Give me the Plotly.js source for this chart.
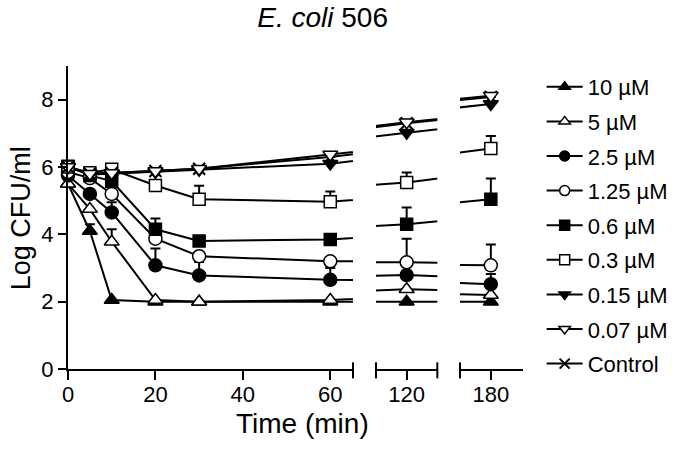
<!DOCTYPE html>
<html>
<head>
<meta charset="utf-8">
<script src="https://cdn.plot.ly/plotly-3.0.1.min.js"></script>
<style>html,body{margin:0;padding:0;background:#fff;}#chart{width:675px;height:451px;}</style>
</head>
<body>
<div id="chart"></div>
<script>
// ---- data ----
const times = [0, 5, 10, 20, 30, 60, 120, 180];
const seriesNames = ['10 µM', '5 µM', '2.5 µM', '1.25 µM', '0.6 µM', '0.3 µM', '0.15 µM', '0.07 µM', 'Control'];
const c10uM   = [5.50, 4.10, 2.05, 2.00, 2.00, 2.00, 2.00, 2.00];
const c5uM    = [5.50, 4.75, 3.78, 2.05, 2.00, 2.05, 2.37, 2.20];
const c2_5uM  = [5.75, 5.20, 4.65, 3.08, 2.78, 2.65, 2.79, 2.52];
const c1_25uM = [5.85, 5.67, 5.20, 3.87, 3.35, 3.20, 3.17, 3.08];
const c0_6uM  = [6.02, 5.75, 5.58, 4.15, 3.80, 3.85, 4.30, 5.04];
const c0_3uM  = [6.00, 5.83, 5.93, 5.45, 5.04, 4.97, 5.54, 6.55];
const c0_15uM = [6.00, 5.78, 5.80, 5.85, 5.92, 6.10, 7.02, 7.87];
const c0_07uM = [6.00, 5.80, 5.82, 5.88, 5.95, 6.37, 7.33, 8.12];
const control = [6.00, 5.80, 5.82, 5.88, 5.95, 6.30, 7.30, 8.08];
// upper error bars (SD)
const e10uM   = [0, 0.20, 0, 0, 0, 0, 0, 0];
const e5uM    = [0, 0, 0.37, 0, 0, 0, 0, 0];
const e2_5uM  = [0, 0, 0.30, 0.50, 0.40, 0.35, 0.30, 0.30];
const e1_25uM = [0, 0, 0, 0, 0, 0, 0.70, 0.62];
const e0_6uM  = [0, 0, 0, 0.32, 0, 0, 0.50, 0.62];
const e0_3uM  = [0, 0, 0, 0, 0.40, 0.30, 0.30, 0.37];
const eNone   = [0, 0, 0, 0, 0, 0, 0, 0];
const yTicks = [0, 2, 4, 6, 8];
const xTicks1 = [0, 20, 40, 60];
const xTicks2 = [120];
const xTicks3 = [180];

const values = [c10uM, c5uM, c2_5uM, c1_25uM, c0_6uM, c0_3uM, c0_15uM, c0_07uM, control];
const errors = [e10uM, e5uM, e2_5uM, e1_25uM, e0_6uM, e0_3uM, eNone, eNone, eNone];
const symbols = ['triangle-up', 'triangle-up', 'circle', 'circle', 'square', 'square', 'triangle-down', 'triangle-down', 'x-thin'];
const fills = ['black', 'white', 'black', 'white', 'black', 'white', 'black', 'white', 'black'];

// ---- broken x-axis segments ----
const segs = [
  {ax: 'x',  range: [0, 65.2],    domain: [0, 0.6264]},
  {ax: 'x2', range: [113, 127],   domain: [0.6769, 0.8117]},
  {ax: 'x3', range: [173, 187.3], domain: [0.8615, 1]}
];

const traces = [];
const drawOrder = [0, 1, 2, 3, 4, 5, 8, 6, 7];
drawOrder.forEach(function (s) {
  segs.forEach(function (seg) {
    traces.push({
      type: 'scatter', mode: 'lines', x: times, y: values[s], xaxis: seg.ax, yaxis: 'y',
      line: {color: 'black', width: 2}, cliponaxis: true, showlegend: false, hoverinfo: 'skip'
    });
  });
});
drawOrder.forEach(function (s) {
  segs.forEach(function (seg) {
    const xs = [], ys = [], es = [], zs = [];
    times.forEach(function (t, i) {
      if (t >= seg.range[0] && t <= seg.range[1]) { xs.push(t); ys.push(values[s][i]); es.push(errors[s][i]); zs.push(0); }
    });
    const isX = symbols[s] === 'x-thin';
    traces.push({
      type: 'scatter', mode: 'markers', x: xs, y: ys, xaxis: seg.ax, yaxis: 'y',
      cliponaxis: false, showlegend: false,
      marker: {symbol: symbols[s], size: isX ? 12 : (symbols[s] === 'square' ? 12 : 13), color: fills[s],
               line: {color: 'black', width: isX ? 2 : 1.5}},
      error_y: {type: 'data', symmetric: false, array: es, arrayminus: zs, color: 'black', thickness: 2, width: 5}
    });
  });
});
// legend entries
seriesNames.forEach(function (name, s) {
  const isX = symbols[s] === 'x-thin';
  traces.push({
    type: 'scatter', mode: 'lines+markers', x: [-100], y: [-100], xaxis: 'x', yaxis: 'y',
    name: name, legendgroup: 'g' + s, cliponaxis: true, hoverinfo: 'skip',
    line: {color: 'black', width: 2},
    marker: {symbol: symbols[s], size: 10, color: fills[s], line: {color: 'black', width: isX ? 2 : 1.5}}
  });
});

const axFont = {family: 'Liberation Sans, Arial, sans-serif', size: 22, color: 'black'};
function xAxis(seg, ticks) {
  return {
    domain: seg.domain, range: seg.range, anchor: 'y', tickvals: ticks, ticktext: ticks.map(String),
    showline: true, linewidth: 2, linecolor: 'black', ticks: 'outside', ticklen: 9, tickwidth: 2, tickcolor: 'black',
    ticklabelstandoff: -4, automargin: false,
    showgrid: false, zeroline: false, tickfont: axFont, fixedrange: true
  };
}

// end caps of the axis segments
const capShapes = [['x', 1], ['x2', 0], ['x2', 1], ['x3', 0]].map(function (c) {
  return {type: 'line', xref: c[0] + ' domain', yref: 'paper', x0: c[1], x1: c[1], y0: -0.031, y1: 0.022,
          line: {color: 'black', width: 2}};
});

const layout = {
  width: 675, height: 451,
  margin: {l: 68, r: 152, t: 66, b: 82, autoexpand: false},
  paper_bgcolor: 'white', plot_bgcolor: 'white',
  font: {family: 'Liberation Sans, Arial, sans-serif', color: 'black'},
  title: {text: '<i>E. coli</i> 506', font: {size: 28, color: 'black'}, x: 0.478, xref: 'container', xanchor: 'center',
          y: 0.962, yref: 'container', yanchor: 'middle'},
  xaxis: xAxis(segs[0], xTicks1),
  xaxis2: xAxis(segs[1], xTicks2),
  xaxis3: xAxis(segs[2], xTicks3),
  yaxis: {range: [0, 9], tickvals: yTicks, showline: true, linewidth: 2, linecolor: 'black', ticks: 'outside', ticklen: 8,
          tickwidth: 2, tickcolor: 'black', showgrid: false, zeroline: false, tickfont: axFont, fixedrange: true, automargin: false},
  shapes: capShapes,
  annotations: [
    {text: 'Time (min)', xref: 'paper', yref: 'paper', x: 0.5154, y: -0.18, xanchor: 'center', yanchor: 'middle',
     showarrow: false, font: {size: 28, color: 'black'}},
    {text: 'Log CFU/ml', xref: 'paper', yref: 'paper', x: -0.103, y: 0.498, xanchor: 'center', yanchor: 'middle',
     textangle: -90, showarrow: false, font: {size: 27, color: 'black'}}
  ],
  showlegend: true,
  legend: {x: 1.041, xanchor: 'left', y: 1.0, yanchor: 'top', font: {size: 22, color: 'black'},
           tracegroupgap: 3, itemwidth: 36, maxheight: 420, bgcolor: 'rgba(0,0,0,0)', traceorder: 'grouped'}
};

Plotly.newPlot('chart', traces, layout, {staticPlot: true});
</script>
</body>
</html>
